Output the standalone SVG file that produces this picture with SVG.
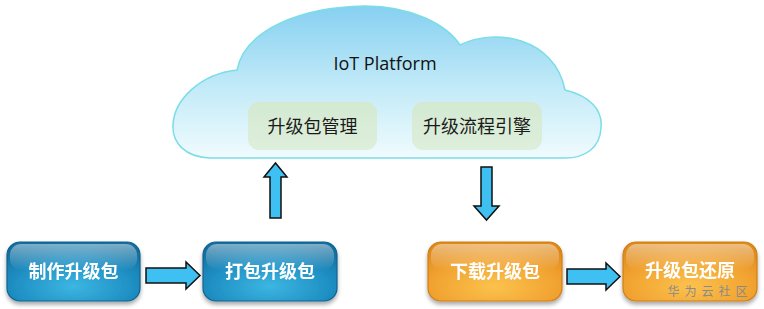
<svg xmlns="http://www.w3.org/2000/svg" width="764" height="309" viewBox="0 0 764 309">
<defs>
<linearGradient id="cloudG" x1="0" y1="0" x2="0" y2="1">
<stop offset="0" stop-color="#86d0f1"/>
<stop offset="0.55" stop-color="#c4ebf8"/>
<stop offset="1" stop-color="#f0fbfe"/>
</linearGradient>
<linearGradient id="greenG" x1="0" y1="0" x2="0" y2="1">
<stop offset="0" stop-color="#d3e9d2"/>
<stop offset="1" stop-color="#deefdb"/>
</linearGradient>
<radialGradient id="blueG" cx="0.5" cy="0.75" r="0.75">
<stop offset="0" stop-color="#3cb6e2"/>
<stop offset="0.6" stop-color="#1f8fc3"/>
<stop offset="1" stop-color="#136e9e"/>
</radialGradient>
<radialGradient id="orangeG" cx="0.5" cy="0.75" r="0.75">
<stop offset="0" stop-color="#fbc24e"/>
<stop offset="0.6" stop-color="#f2a431"/>
<stop offset="1" stop-color="#df8a1c"/>
</radialGradient>
<linearGradient id="gloss" x1="0" y1="0" x2="0" y2="1">
<stop offset="0" stop-color="#ffffff" stop-opacity="0.45"/>
<stop offset="1" stop-color="#ffffff" stop-opacity="0"/>
</linearGradient>
<filter id="sh" x="-10%" y="-10%" width="120%" height="135%">
<feGaussianBlur in="SourceAlpha" stdDeviation="2"/>
<feOffset dx="0" dy="3" result="b"/>
<feComponentTransfer><feFuncA type="linear" slope="0.35"/></feComponentTransfer>
<feMerge><feMergeNode/><feMergeNode in="SourceGraphic"/></feMerge>
</filter>
</defs>
<style>
.blue{fill:url(#blueG);stroke:#0f6390;stroke-width:1.2}
.orange{fill:url(#orangeG);stroke:#cf7f14;stroke-width:1.2}
.gl{fill:url(#gloss)}
.btxt{font-family:"Noto Sans CJK SC","Noto Sans",sans-serif;font-size:18px;font-weight:bold;fill:#ffffff;text-anchor:middle}
.gtxt{font-family:"Noto Sans CJK SC","Noto Sans",sans-serif;font-size:18px;fill:#1a1a1a;text-anchor:middle}
.arr{fill:#3ec1f2;stroke:#111111;stroke-width:1.5;stroke-linejoin:miter}
</style>

<g id="cloud">
<path d="M 210,158 C 185,157 172,143 173,125 C 174,100 200,74 237,70 C 245,30 300,7 365,6 C 412,6 447,25 460,45 C 495,27 555,38 565,90 C 590,96 603,110 601,128 C 600,148 585,158 565,158 Z" fill="url(#cloudG)" stroke="#7adde7" stroke-width="1.5"/>
<text x="385" y="70" font-family="'Open Sans','Noto Sans',sans-serif" font-size="18" fill="#111111" text-anchor="middle">IoT Platform</text>
</g>

<g id="pkgmgmt">
<rect x="248" y="102" width="129" height="48" rx="11" fill="url(#greenG)"/>
<text class="gtxt" x="312.5" y="133">升级包管理</text>
</g>
<g id="engine">
<rect x="412" y="102" width="130" height="48" rx="11" fill="url(#greenG)"/>
<text class="gtxt" x="477" y="133">升级流程引擎</text>
</g>

<g id="make" filter="url(#sh)">
<rect class="blue" x="7" y="242" width="133" height="59" rx="13"/>
<rect class="gl" x="10" y="244" width="127" height="26" rx="11"/>
<text class="btxt" x="73.5" y="278">制作升级包</text>
</g>
<g id="pack" filter="url(#sh)">
<rect class="blue" x="203" y="242" width="134" height="59" rx="13"/>
<rect class="gl" x="206" y="244" width="128" height="26" rx="11"/>
<text class="btxt" x="270" y="278">打包升级包</text>
</g>
<g id="download" filter="url(#sh)">
<rect class="orange" x="428" y="242" width="134" height="59" rx="13"/>
<rect class="gl" x="431" y="244" width="128" height="26" rx="11"/>
<text class="btxt" x="495" y="278">下载升级包</text>
</g>
<g id="restore" filter="url(#sh)">
<rect class="orange" x="623" y="242" width="134" height="59" rx="13"/>
<rect class="gl" x="626" y="244" width="128" height="26" rx="11"/>
<text class="btxt" x="690" y="277">升级包还原</text>
</g>

<g id="connectors">
<path class="arr" d="M146,268 H186 V262 L200,275.5 L186,289 V283 H146 Z"/>
<path class="arr" d="M567,269 H606 V263 L620,276.5 L606,290 V284 H567 Z"/>
<path class="arr" d="M270,218 V177 H264 L275.5,163 L287,177 H281 V218 Z"/>
<path class="arr" d="M481,167 V206 H474 L486.5,220 L499,206 H492 V167 Z"/>
</g>

<text x="710" y="296" font-family="'Noto Sans CJK SC',sans-serif" font-size="12" fill="#8a8a8a" text-anchor="middle" letter-spacing="5">华为云社区</text>
</svg>
